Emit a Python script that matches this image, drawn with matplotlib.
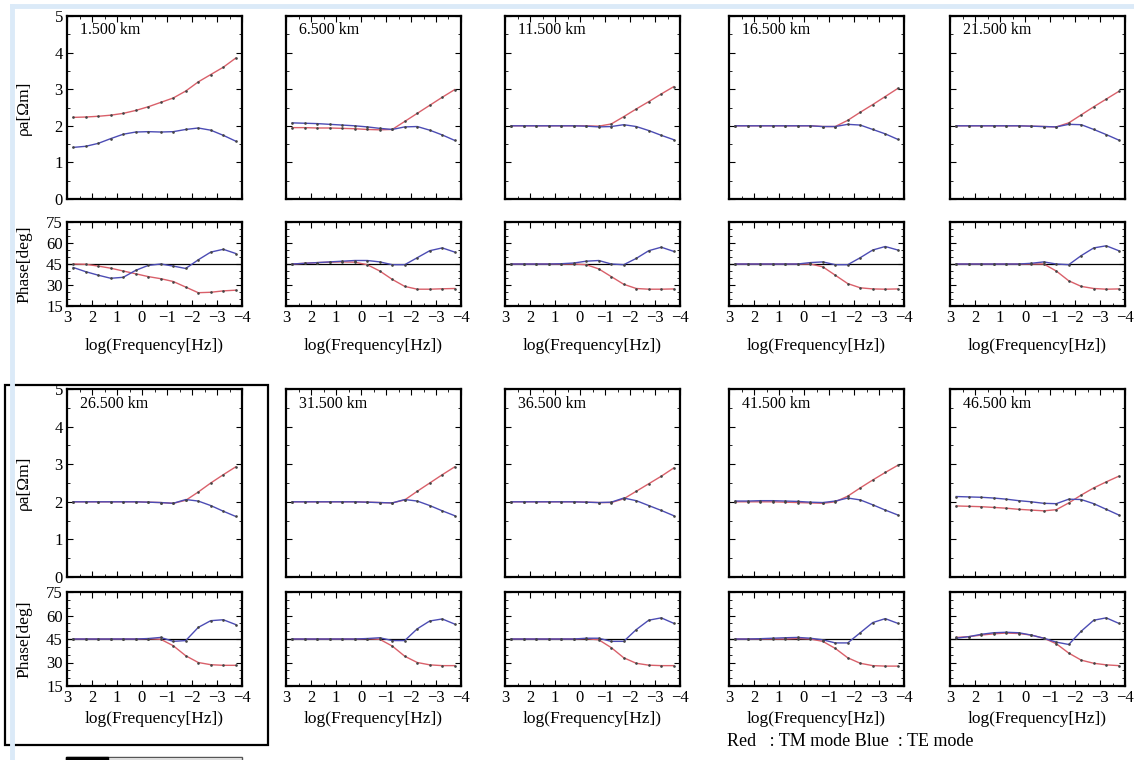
import matplotlib
matplotlib.use("Agg")
import matplotlib.pyplot as plt
from matplotlib.patches import Rectangle
from matplotlib.lines import Line2D
from matplotlib.ticker import MultipleLocator

plt.rcParams['font.family'] = ['Liberation Serif', 'DejaVu Serif']

# log10 of frequency (Hz) at the sampled points
logf = [2.75, 2.25, 1.75, 1.25, 0.75, 0.25, -0.25, -0.75,
        -1.25, -1.75, -2.25, -2.75, -3.25, -3.75]

stations = ['1.500 km', '6.500 km', '11.500 km', '16.500 km', '21.500 km',
            '26.500 km', '31.500 km', '36.500 km', '41.500 km', '46.500 km']

# apparent resistivity, TM mode (red)
rho_tm = [
    [2.23, 2.24, 2.26, 2.29, 2.34, 2.42, 2.52, 2.64, 2.76, 2.95, 3.20, 3.40, 3.60, 3.85],
    [1.95, 1.95, 1.94, 1.94, 1.93, 1.92, 1.90, 1.89, 1.90, 2.12, 2.34, 2.56, 2.78, 2.99],
    [2.00, 2.00, 2.00, 2.00, 2.00, 2.00, 2.00, 1.99, 2.05, 2.25, 2.46, 2.66, 2.87, 3.07],
    [2.00, 2.00, 2.00, 2.00, 2.00, 2.00, 2.00, 1.98, 1.98, 2.15, 2.37, 2.58, 2.80, 3.02],
    [2.00, 2.00, 2.00, 2.00, 2.00, 2.00, 1.99, 1.98, 1.97, 2.08, 2.30, 2.52, 2.73, 2.94],
    [2.00, 2.00, 2.00, 2.00, 2.00, 2.00, 1.99, 1.98, 1.96, 2.04, 2.26, 2.50, 2.72, 2.93],
    [2.00, 2.00, 2.00, 2.00, 2.00, 2.00, 1.99, 1.98, 1.97, 2.05, 2.28, 2.50, 2.72, 2.93],
    [2.00, 2.00, 2.00, 2.00, 2.00, 2.00, 1.99, 1.98, 1.98, 2.08, 2.28, 2.48, 2.68, 2.90],
    [2.00, 2.00, 2.00, 2.00, 1.99, 1.98, 1.97, 1.96, 2.00, 2.15, 2.37, 2.58, 2.78, 2.97],
    [1.89, 1.88, 1.87, 1.85, 1.83, 1.80, 1.78, 1.76, 1.79, 1.97, 2.18, 2.37, 2.53, 2.68],
]

# apparent resistivity, TE mode (blue)
rho_te = [
    [1.41, 1.44, 1.52, 1.65, 1.77, 1.83, 1.84, 1.83, 1.84, 1.90, 1.94, 1.88, 1.74, 1.58],
    [2.08, 2.07, 2.06, 2.04, 2.02, 2.00, 1.97, 1.93, 1.90, 1.97, 1.98, 1.88, 1.75, 1.60],
    [2.00, 2.00, 2.00, 2.00, 2.00, 2.00, 1.99, 1.97, 1.98, 2.03, 1.98, 1.87, 1.74, 1.62],
    [2.00, 2.00, 2.00, 2.00, 2.00, 2.00, 2.00, 1.98, 1.98, 2.04, 2.02, 1.90, 1.78, 1.63],
    [2.00, 2.00, 2.00, 2.00, 2.00, 2.00, 1.99, 1.98, 1.97, 2.04, 2.03, 1.90, 1.76, 1.61],
    [2.00, 2.00, 2.00, 2.00, 2.00, 2.00, 1.99, 1.98, 1.96, 2.06, 2.02, 1.90, 1.75, 1.61],
    [2.00, 2.00, 2.00, 2.00, 2.00, 2.00, 1.99, 1.98, 1.97, 2.06, 2.02, 1.90, 1.76, 1.63],
    [2.00, 2.00, 2.00, 2.00, 2.00, 2.00, 1.99, 1.98, 1.99, 2.10, 2.03, 1.90, 1.77, 1.63],
    [2.02, 2.02, 2.03, 2.03, 2.02, 2.01, 1.99, 1.98, 2.02, 2.10, 2.05, 1.92, 1.78, 1.65],
    [2.14, 2.13, 2.12, 2.10, 2.07, 2.03, 2.00, 1.96, 1.95, 2.07, 2.06, 1.95, 1.80, 1.65],
]

# phase, TM mode (red)
ph_tm = [
    [45.0, 44.8, 43.5, 42.0, 40.0, 38.0, 36.0, 34.5, 32.5, 28.5, 24.5, 24.8, 25.8, 26.3],
    [45.0, 45.5, 46.0, 46.3, 46.5, 46.3, 44.5, 40.0, 34.0, 29.0, 27.0, 27.0, 27.3, 27.5],
    [45.0, 45.0, 45.0, 45.0, 45.0, 45.0, 44.5, 41.5, 36.0, 30.5, 27.5, 27.0, 27.0, 27.2],
    [45.0, 45.0, 45.0, 45.0, 45.0, 45.0, 45.0, 43.0, 37.0, 31.0, 28.0, 27.2, 27.0, 27.2],
    [45.0, 45.0, 45.0, 45.0, 45.0, 45.0, 45.0, 45.0, 40.0, 33.0, 29.0, 27.5, 27.0, 27.2],
    [45.0, 45.0, 45.0, 45.0, 45.0, 45.0, 45.2, 44.8, 40.7, 34.3, 30.0, 28.6, 28.2, 28.2],
    [45.0, 45.0, 45.0, 45.0, 45.0, 45.0, 45.2, 44.8, 40.5, 34.0, 30.0, 28.5, 28.0, 28.0],
    [45.0, 45.0, 45.0, 45.0, 45.0, 45.0, 45.2, 44.5, 39.5, 33.0, 29.5, 28.3, 28.0, 28.0],
    [45.0, 45.0, 45.0, 45.0, 45.0, 45.3, 45.0, 43.5, 39.0, 33.0, 29.5, 28.0, 27.7, 27.7],
    [46.0, 46.5, 47.5, 48.3, 48.8, 48.5, 47.5, 45.5, 42.0, 36.0, 31.5, 29.5, 28.5, 28.0],
]

# phase, TE mode (blue)
ph_te = [
    [42.5, 39.5, 37.0, 34.8, 35.5, 40.5, 44.0, 45.0, 43.5, 41.8, 48.0, 53.5, 55.5, 52.5],
    [45.0, 45.5, 46.0, 46.5, 47.0, 47.5, 47.5, 46.5, 44.5, 44.5, 49.5, 54.5, 56.5, 53.5],
    [45.0, 45.0, 45.0, 45.0, 45.2, 45.7, 47.0, 47.5, 45.0, 44.5, 49.0, 54.5, 57.0, 54.0],
    [45.0, 45.0, 45.0, 45.0, 45.0, 45.0, 46.0, 46.5, 44.5, 44.5, 49.5, 55.0, 57.5, 55.0],
    [45.0, 45.0, 45.0, 45.0, 45.0, 45.0, 45.5, 46.5, 45.0, 44.5, 51.0, 56.5, 58.0, 54.5],
    [45.0, 45.0, 45.0, 45.0, 45.0, 45.0, 45.3, 46.0, 43.5, 44.0, 52.4, 56.7, 57.3, 54.2],
    [45.0, 45.0, 45.0, 45.0, 45.0, 45.0, 45.3, 45.8, 44.0, 44.0, 51.5, 56.5, 57.8, 54.5],
    [45.0, 45.0, 45.0, 45.0, 45.0, 45.0, 45.5, 45.5, 43.5, 43.5, 51.0, 57.0, 58.5, 55.0],
    [45.0, 45.0, 45.2, 45.5, 45.8, 46.0, 45.5, 44.5, 42.5, 42.5, 49.0, 55.5, 58.0, 55.0],
    [45.5, 46.5, 48.0, 49.0, 49.3, 49.0, 47.5, 45.5, 43.0, 41.5, 50.0, 57.0, 58.5, 55.0],
]

W, H = 1134, 760
RED = '#d9606a'
BLUE = '#4c4cb4'
DOT = '#444444'

fig = plt.figure(figsize=(W / 100, H / 100), dpi=100)


def rect(left, top, w, h):
    return [left / W, 1 - (top + h) / H, w / W, h / H]


col_left = [67, 286, 505, 729, 950]
col_w = 175
# (rho top, rho height, phase top, phase height, xlabel y)
rows = [(16, 183, 222, 84, 346), (389, 188, 592, 94, 719)]


def style(ax):
    ax.tick_params(which='both', direction='in', top=True, right=True,
                   labelsize=12, pad=3)
    ax.tick_params(which='major', length=4, width=0.8)
    ax.tick_params(which='minor', length=2, width=0.6)
    for s in ax.spines.values():
        s.set_linewidth(1.6)


for i, name in enumerate(stations):
    r, c = divmod(i, 5)
    rt, rh, pt, ph, xl_y = rows[r]
    left = col_left[c]

    ax1 = fig.add_axes(rect(left, rt, col_w, rh))
    ax1.plot(logf, rho_tm[i], color=RED, lw=1.0, marker='.', ms=1.8, mfc=DOT, mec=DOT)
    ax1.plot(logf, rho_te[i], color=BLUE, lw=1.0, marker='.', ms=1.8, mfc=DOT, mec=DOT)
    ax1.set_xlim(3, -4)
    ax1.set_ylim(0, 5)
    ax1.xaxis.set_major_locator(MultipleLocator(1))
    ax1.xaxis.set_minor_locator(MultipleLocator(0.5))
    ax1.yaxis.set_major_locator(MultipleLocator(1))
    ax1.yaxis.set_minor_locator(MultipleLocator(0.5))
    style(ax1)
    ax1.set_xticklabels([])
    ax1.text(0.075, 0.965, name, transform=ax1.transAxes, ha='left', va='top',
             fontsize=11.5)

    ax2 = fig.add_axes(rect(left, pt, col_w, ph))
    ax2.axhline(45, color='black', lw=0.9)
    ax2.plot(logf, ph_tm[i], color=RED, lw=1.0, marker='.', ms=1.8, mfc=DOT, mec=DOT)
    ax2.plot(logf, ph_te[i], color=BLUE, lw=1.0, marker='.', ms=1.8, mfc=DOT, mec=DOT)
    ax2.set_xlim(3, -4)
    ax2.set_ylim(15, 75)
    ax2.xaxis.set_major_locator(MultipleLocator(1))
    ax2.xaxis.set_minor_locator(MultipleLocator(0.5))
    ax2.yaxis.set_major_locator(MultipleLocator(15))
    ax2.yaxis.set_minor_locator(MultipleLocator(5))
    style(ax2)

    if c == 0:
        ax1.set_ylabel('ρa[Ωm]', fontsize=12.5)
        ax1.yaxis.set_label_coords(-0.2, 0.5)
        ax2.set_ylabel('Phase[deg]', fontsize=12.5)
        ax2.yaxis.set_label_coords(-0.2, 0.5)
    else:
        ax1.set_yticklabels([])
        ax2.set_yticklabels([])

    fig.text((left + col_w / 2) / W, 1 - xl_y / H, 'log(Frequency[Hz])',
             ha='center', va='center', fontsize=12.5)

fig.text(727 / W, 1 - 742 / H, 'Red   : TM mode Blue  : TE mode',
         ha='left', va='center', fontsize=13)

# light blue page frame
fig.add_artist(Line2D([12 / W, 1], [1 - 6 / H, 1 - 6 / H], color='#dbeaf8', lw=3.5))
fig.add_artist(Line2D([12 / W, 12 / W], [0, 1 - 6 / H], color='#dbeaf8', lw=3.5))

# highlight box around the 26.5 km station
fig.add_artist(Rectangle((5 / W, 1 - 745 / H), 263 / W, 360 / H, fill=False,
                         ec='black', lw=1.6, transform=fig.transFigure))

# cut-off box at the bottom edge
fig.add_artist(Rectangle((66 / W, 0), 176 / W, 3 / H, fill=False, ec='#555555',
                         lw=1.0, transform=fig.transFigure))
fig.add_artist(Rectangle((66 / W, 0), 42 / W, 3 / H, fc='black', ec='black',
                         lw=1.0, transform=fig.transFigure))

fig.savefig('out.png', dpi=100)
